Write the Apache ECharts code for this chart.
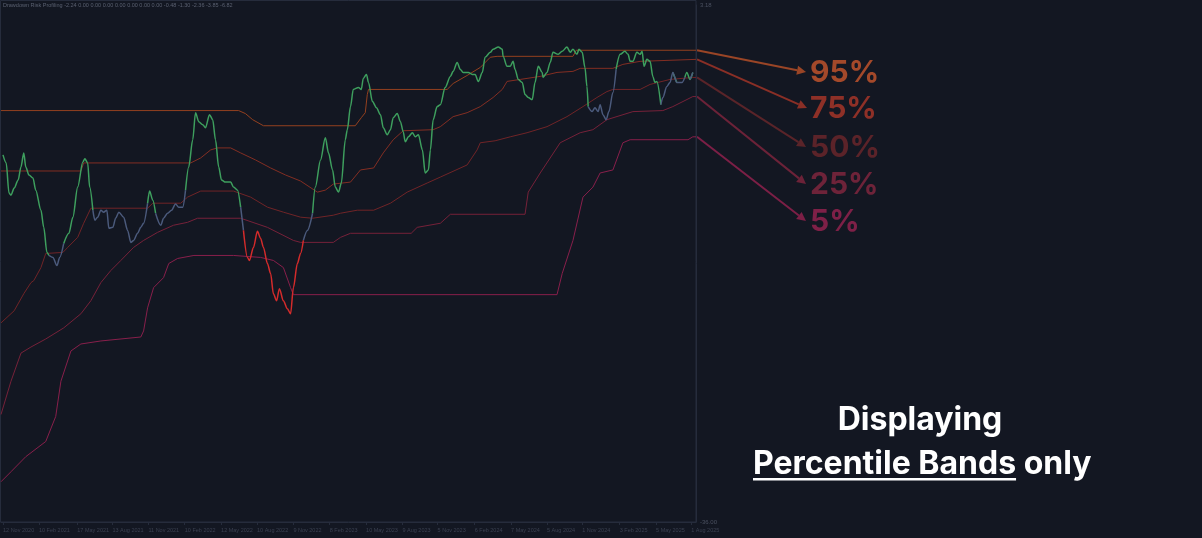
<!DOCTYPE html>
<html>
<head>
<meta charset="utf-8">
<script src="https://cdn.jsdelivr.net/npm/echarts@6/dist/echarts.min.js"></script>
<style>
html,body{margin:0;padding:0;background:#131722;}
#c{width:1202px;height:538px;}
</style>
</head>
<body>
<div id="c"></div>
<script>
// ---------------- DATA ----------------
const titleText = 'Drawdown Risk Profiling -2.24 0.00 0.00 0.00 0.00 0.00 0.00 0.00 -0.48 -1.30 -2.36 -3.85 -6.82';
const xMin = '2020-11-07';
const xMax = '2025-08-13';
const yMin = -36;
const yMax = 3.18;
const yLabelValues = [3.18, -36];
const tickDates = ['2020-11-12','2021-02-10','2021-05-17','2021-08-13','2021-11-11','2022-02-10','2022-05-12','2022-08-10','2022-11-09','2023-02-08','2023-05-10','2023-08-09','2023-11-05','2024-02-06','2024-05-07','2024-08-05','2024-11-01','2025-02-03','2025-05-05','2025-08-01'];
const monthNames = ['Jan','Feb','Mar','Apr','May','Jun','Jul','Aug','Sep','Oct','Nov','Dec'];

const drawdown = [
['2020-11-12',-8.18],['2020-11-20',-8.79],['2020-11-27',-11.07],['2020-12-02',-11.23],['2020-12-10',-10.69],
['2020-12-20',-10.08],['2020-12-27',-9.09],['2021-01-03',-8.03],['2021-01-08',-9.09],['2021-01-16',-9.70],
['2021-01-26',-9.93],['2021-02-02',-10.85],['2021-02-15',-12.37],['2021-02-22',-13.67],['2021-03-02',-15.57],
['2021-03-07',-15.80],['2021-03-17',-15.95],['2021-03-27',-16.56],['2021-04-03',-15.95],['2021-04-13',-14.89],
['2021-04-26',-14.12],['2021-05-06',-12.90],['2021-05-18',-10.62],['2021-05-31',-8.71],['2021-06-05',-8.48],
['2021-06-12',-8.79],['2021-06-17',-10.62],['2021-06-25',-12.37],['2021-06-30',-13.13],['2021-07-07',-12.90],
['2021-07-15',-12.37],['2021-07-22',-12.52],['2021-07-30',-12.37],['2021-08-04',-13.74],['2021-08-14',-13.67],
['2021-08-21',-12.98],['2021-08-29',-12.52],['2021-09-10',-12.90],['2021-09-20',-13.90],['2021-09-28',-14.81],
['2021-10-05',-14.66],['2021-10-15',-14.12],['2021-10-23',-13.67],['2021-10-30',-13.36],['2021-11-09',-11.84],
['2021-11-14',-10.92],['2021-11-22',-11.61],['2021-11-29',-12.60],['2021-12-12',-13.51],['2021-12-19',-12.98],
['2021-12-29',-12.60],['2022-01-08',-12.37],['2022-01-18',-11.90],['2022-01-26',-12.14],['2022-02-05',-12.14],
['2022-02-12',-10.85],['2022-02-20',-9.09],['2022-03-02',-7.03],['2022-03-09',-4.98],['2022-03-17',-5.66],
['2022-03-27',-5.89],['2022-04-03',-6.12],['2022-04-13',-5.13],['2022-04-21',-5.51],['2022-04-28',-7.03],
['2022-05-06',-9.09],['2022-05-13',-10.08],['2022-05-23',-10.24],['2022-06-05',-10.24],['2022-06-12',-10.62],
['2022-06-22',-10.85],['2022-06-30',-12.14],['2022-07-07',-13.90],['2022-07-17',-15.95],['2022-07-22',-16.18],
['2022-08-01',-15.19],['2022-08-11',-13.97],['2022-08-19',-14.51],['2022-08-26',-15.19],['2022-09-05',-16.41],
['2022-09-13',-17.17],['2022-09-20',-18.70],['2022-09-28',-19.23],['2022-10-05',-18.32],['2022-10-15',-19.23],
['2022-10-25',-19.84],['2022-11-02',-20.22],['2022-11-09',-18.24],['2022-11-19',-16.41],['2022-11-27',-15.65],
['2022-12-04',-14.66],['2022-12-14',-13.90],['2022-12-27',-12.60],['2023-01-03',-10.62],['2023-01-16',-8.56],
['2023-01-28',-6.88],['2023-02-05',-8.03],['2023-02-15',-9.32],['2023-02-22',-10.62],['2023-03-02',-11.00],
['2023-03-09',-10.31],['2023-03-19',-7.03],['2023-03-24',-6.27],['2023-04-01',-4.52],['2023-04-08',-3.22],
['2023-04-21',-3.07],['2023-04-28',-3.22],['2023-05-03',-2.39],['2023-05-11',-2.08],['2023-05-16',-2.69],
['2023-05-26',-4.14],['2023-06-05',-4.60],['2023-06-15',-5.13],['2023-06-22',-6.12],['2023-07-02',-6.65],
['2023-07-10',-6.27],['2023-07-17',-5.36],['2023-07-27',-5.05],['2023-08-04',-5.66],['2023-08-11',-6.42],
['2023-08-16',-7.19],['2023-08-24',-6.81],['2023-09-03',-6.50],['2023-09-10',-6.81],['2023-09-18',-6.65],
['2023-09-28',-7.80],['2023-10-05',-9.55],['2023-10-13',-9.32],['2023-10-18',-7.80],['2023-10-25',-5.51],
['2023-11-04',-4.52],['2023-11-12',-4.37],['2023-11-24',-3.07],['2023-12-07',-2.23],['2023-12-14',-1.85],
['2023-12-24',-1.17],['2024-01-01',-1.70],['2024-01-08',-1.93],['2024-01-21',-1.93],['2024-01-31',-2.08],
['2024-02-07',-2.08],['2024-02-15',-2.61],['2024-02-25',-1.93],['2024-03-03',-0.78],['2024-03-16',-0.40],
['2024-03-23',-0.17],['2024-04-05',0.00],['2024-04-15',-0.17],['2024-04-17',-0.71],['2024-04-27',-1.47],
['2024-05-05',-1.47],['2024-05-12',-1.09],['2024-05-17',-1.70],['2024-05-25',-2.46],['2024-06-04',-2.69],
['2024-06-11',-3.61],['2024-06-19',-3.83],['2024-06-29',-3.99],['2024-07-06',-2.69],['2024-07-14',-1.47],
['2024-07-24',-1.93],['2024-07-26',-2.31],['2024-08-05',-1.93],['2024-08-13',-1.17],['2024-08-20',-0.40],
['2024-09-02',-0.56],['2024-09-12',-0.33],['2024-09-24',0.00],['2024-10-02',-0.40],['2024-10-09',-0.17],
['2024-10-19',-0.56],['2024-10-24',-0.17],['2024-11-01',-0.40],['2024-11-08',-1.55],['2024-11-13',-2.99],
['2024-11-16',-4.52],['2024-11-26',-4.90],['2024-12-03',-4.60],['2024-12-11',-4.90],['2024-12-16',-4.37],
['2024-12-23',-5.13],['2024-12-31',-5.51],['2025-01-07',-4.90],['2025-01-17',-3.45],['2025-01-25',-1.70],
['2025-02-04',-0.56],['2025-02-16',-0.33],['2025-02-24',-0.56],['2025-03-01',-1.09],['2025-03-08',-1.09],
['2025-03-18',-0.40],['2025-03-26',-0.56],['2025-03-31',-0.33],['2025-04-05',-1.47],['2025-04-12',-0.94],
['2025-04-20',-1.09],['2025-04-27',-2.23],['2025-05-02',-2.69],['2025-05-07',-2.61],['2025-05-17',-4.37],
['2025-05-22',-3.83],['2025-06-01',-2.99],['2025-06-09',-2.69],['2025-06-16',-1.93],['2025-06-26',-2.69],
['2025-07-09',-2.69],['2025-07-16',-2.31],['2025-07-21',-1.93],['2025-07-29',-2.46],['2025-08-05',-1.93]
];

const band95 = [
['2020-11-07',-4.82],['2022-06-25',-4.82],['2022-07-12',-5.05],['2022-07-30',-5.51],['2022-08-26',-5.97],
['2023-04-13',-5.97],['2023-04-28',-5.36],['2023-05-08',-4.98],['2023-05-13',-3.61],['2023-05-16',-3.22],
['2023-11-29',-3.22],['2023-12-14',-2.77],['2024-01-18',-2.16],['2024-02-20',-1.55],['2024-03-16',-0.78],
['2024-04-02',-0.71],['2024-10-09',-0.71],['2024-10-17',-0.25],['2025-08-13',-0.25]
];
const band75 = [
['2020-11-07',-9.40],['2021-05-26',-9.40],['2021-06-02',-8.79],['2022-02-25',-8.79],['2022-03-22',-8.41],
['2022-04-16',-7.80],['2022-05-03',-7.65],['2022-06-05',-7.65],['2022-06-30',-8.03],['2022-08-06',-8.56],
['2022-09-13',-9.17],['2022-10-20',-9.70],['2022-11-27',-10.16],['2023-01-08',-11.00],['2023-01-28',-10.85],
['2023-02-17',-10.39],['2023-04-01',-10.24],['2023-04-26',-9.32],['2023-05-29',-9.17],['2023-06-22',-8.03],
['2023-07-17',-7.03],['2023-08-11',-6.35],['2023-10-25',-6.27],['2023-11-12',-6.04],['2023-12-14',-5.28],
['2024-01-18',-4.98],['2024-02-20',-4.52],['2024-03-23',-3.83],['2024-04-15',-3.22],['2024-04-27',-2.61],
['2024-05-30',-2.46],['2024-07-19',-2.23],['2024-08-30',-1.93],['2024-10-09',-1.85],['2024-10-27',-1.62],
['2025-01-17',-1.62],['2025-02-11',-1.32],['2025-03-26',-1.09],['2025-08-13',-0.94]
];
const band50 = [
['2020-11-07',-20.91],['2020-12-10',-19.99],['2021-01-03',-18.70],['2021-01-21',-17.86],['2021-01-28',-17.71],
['2021-02-15',-16.72],['2021-02-27',-15.65],['2021-03-04',-15.57],['2021-04-11',-15.57],['2021-04-23',-15.19],
['2021-05-18',-14.43],['2021-06-02',-13.36],['2021-06-20',-12.22],['2021-11-09',-12.22],['2021-11-22',-11.84],
['2022-01-31',-11.84],['2022-02-17',-11.38],['2022-03-22',-10.92],['2022-06-12',-10.92],['2022-07-25',-11.38],
['2022-09-05',-12.14],['2022-10-15',-12.52],['2022-11-27',-12.90],['2022-12-27',-12.98],['2023-02-17',-12.75],
['2023-03-07',-12.60],['2023-04-18',-12.37],['2023-05-29',-12.37],['2023-07-10',-11.84],['2023-08-21',-11.00],
['2023-10-10',-10.31],['2023-11-12',-9.86],['2024-01-18',-8.94],['2024-02-12',-7.80],['2024-02-20',-7.26],
['2024-03-28',-7.11],['2024-05-05',-6.81],['2024-06-16',-6.50],['2024-08-05',-6.04],['2024-09-24',-5.28],
['2024-11-03',-4.52],['2024-12-08',-3.83],['2025-01-02',-3.38],['2025-01-17',-3.22],['2025-03-26',-3.22],
['2025-04-20',-2.84],['2025-06-09',-2.46],['2025-08-05',-2.31],['2025-08-13',-2.31]
];
const band25 = [
['2020-11-07',-27.85],['2020-12-02',-25.33],['2020-12-27',-23.20],['2021-01-21',-22.74],['2021-02-27',-22.13],
['2021-04-13',-21.29],['2021-05-26',-20.22],['2021-06-20',-19.23],['2021-07-15',-17.86],['2021-08-09',-16.94],
['2021-09-03',-16.18],['2021-10-05',-15.19],['2021-10-30',-14.66],['2021-12-04',-14.05],['2022-01-13',-13.51],
['2022-02-17',-13.29],['2022-03-14',-12.98],['2022-06-30',-12.98],['2022-09-05',-13.67],['2022-11-09',-14.66],
['2022-11-27',-14.81],['2023-02-17',-14.81],['2023-03-07',-14.43],['2023-04-01',-14.12],['2023-08-31',-14.12],
['2023-09-15',-13.67],['2023-11-12',-13.36],['2023-12-07',-12.68],['2024-06-11',-12.68],['2024-06-19',-11.00],
['2024-07-19',-9.55],['2024-09-07',-7.26],['2024-10-27',-6.50],['2024-11-28',-6.27],['2025-01-02',-5.51],
['2025-03-08',-4.90],['2025-05-22',-4.82],['2025-06-16',-4.52],['2025-08-05',-3.76],['2025-08-13',-3.76]
];
const band05 = [
['2020-11-07',-32.95],['2020-12-02',-32.19],['2021-01-08',-31.05],['2021-02-27',-29.90],['2021-03-24',-28.00],
['2021-04-06',-25.33],['2021-05-01',-23.04],['2021-05-26',-22.51],['2021-07-15',-22.28],['2021-10-23',-21.98],
['2021-10-30',-21.52],['2021-11-09',-19.77],['2021-11-24',-18.24],['2021-12-19',-17.48],['2022-01-01',-16.41],
['2022-01-23',-16.03],['2022-03-05',-15.80],['2022-06-12',-15.80],['2022-08-19',-15.95],['2022-09-20',-16.18],
['2022-10-15',-16.72],['2022-11-02',-18.24],['2022-11-09',-18.77],['2024-08-30',-18.77],['2024-09-12',-17.17],
['2024-10-09',-14.66],['2024-11-03',-11.38],['2024-11-28',-10.62],['2024-12-16',-9.55],['2025-01-17',-9.32],
['2025-02-11',-7.26],['2025-03-01',-7.03],['2025-07-24',-7.03],['2025-08-05',-6.81],['2025-08-13',-6.81]
];

const bandNames = ['95%','75%','50%','25%','5%'];
const bandData = [band95, band75, band50, band25, band05];
const bandColors = ['#93401f','#832e22','#702427','#762139','#881f4b'];
const labelColors = ['#a4492a','#8e3027','#5b2329','#6e2339','#7e2047'];
const arrowColors = ['#9a4526','#8a2f26','#5a2429','#6c2238','#7c1f46'];
const regimeNames = ['Above median','Between 25% and 50%','Below 25%'];
const regimeColors = ['#3e9f5e','#4b5a7c','#d42b2b'];

// ---------------- HELPERS ----------------
const T = s => { const [y,m,d] = s.split('-').map(Number); return new Date(y, m-1, d).getTime(); };
const toSeries = arr => arr.map(p => [T(p[0]), p[1]]);
function interp(band, t){
  if (t <= T(band[0][0])) return band[0][1];
  for (let i = 1; i < band.length; i++){
    const t0 = T(band[i-1][0]), t1 = T(band[i][0]);
    if (t <= t1){ const f = (t - t0) / (t1 - t0); return band[i-1][1] + f * (band[i][1] - band[i-1][1]); }
  }
  return band[band.length-1][1];
}
function fmtDate(v){ const d = new Date(v); return d.getDate() + ' ' + monthNames[d.getMonth()] + ' ' + d.getFullYear(); }

// regime of each drawdown point: above median band -> green, between 25% and 50% -> blue, below 25% -> red
const regimes = drawdown.map(p => {
  const t = T(p[0]);
  if (p[1] >= interp(band50, t)) return 0;
  if (p[1] >= interp(band25, t)) return 1;
  return 2;
});
// one line per regime; a point belongs to regime k if it is in k or the previous point is (so segments join)
const regimeSeriesData = regimeColors.map((c, k) => drawdown.map((p, i) =>
  (regimes[i] === k || (i > 0 && regimes[i-1] === k)) ? [T(p[0]), p[1]] : [T(p[0]), null]
));

// ---------------- CHART ----------------
const chart = echarts.init(document.getElementById('c'), null, { renderer: 'canvas' });
const series = bandData.map((b, i) => ({
  name: bandNames[i], type: 'line', data: toSeries(b), showSymbol: false, silent: true,
  lineStyle: { color: bandColors[i], width: 1 }, itemStyle: { color: bandColors[i] }, z: 2
}));
regimeSeriesData.forEach((d, k) => series.push({
  name: regimeNames[k], type: 'line', data: d, showSymbol: false, silent: true, connectNulls: false,
  smooth: 0.3, smoothMonotone: 'x', lineStyle: { width: 1.5, color: regimeColors[k] }, itemStyle: { color: regimeColors[k] }, z: 5
}));

const tickValues = tickDates.map(T);
const axisCol = '#262c3c';
chart.setOption({
  animation: false,
  backgroundColor: '#131722',
  title: {
    text: titleText, left: 3, top: 2, padding: 0,
    textStyle: { color: '#5a6070', fontSize: 5.5, fontWeight: 'normal', fontFamily: 'Liberation Sans' }
  },
  grid: { left: 0, right: 506, top: 5, bottom: 16, show: false },
  xAxis: {
    type: 'value', min: T(xMin), max: T(xMax), scale: true,
    axisLine: { show: true, onZero: false, lineStyle: { color: axisCol } },
    axisTick: { show: true, length: 3, lineStyle: { color: axisCol }, customValues: tickValues },
    axisLabel: {
      customValues: tickValues, formatter: v => fmtDate(v), align: 'left', margin: 5,
      color: '#3b4151', fontSize: 5.5, fontFamily: 'Liberation Sans', hideOverlap: false,
      showMinLabel: true, showMaxLabel: true
    },
    splitLine: { show: false }
  },
  yAxis: {
    type: 'value', position: 'right', min: yMin, max: yMax,
    axisLine: { show: true, onZero: false, lineStyle: { color: axisCol } },
    axisTick: { show: false },
    axisLabel: { customValues: yLabelValues, formatter: v => Number(v).toFixed(2), color: '#4b5161', fontSize: 6, margin: 4, fontFamily: 'Liberation Sans', showMinLabel: true, showMaxLabel: true },
    splitLine: { show: false }
  },
  series: series
});

// ---------------- ANNOTATIONS ----------------
const tips = [[806,72],[807,108],[806,147],[806,184],[806,221]];
const labelY = [73,109,148,185,222];
const graphics = [];
// outer frame of the price pane
graphics.push({ type: 'rect', shape: { x: 0.5, y: 0.5, width: 695.5, height: 521.5 }, style: { fill: 'none', stroke: axisCol, lineWidth: 1 }, silent: true, z: -1 });
bandData.forEach((b, i) => {
  const last = b[b.length-1];
  const p = chart.convertToPixel({ xAxisIndex: 0, yAxisIndex: 0 }, [T(last[0]), last[1]]);
  const x0 = p[0] + 1, y0 = p[1];
  const [x1, y1] = tips[i];
  const ang = Math.atan2(y1 - y0, x1 - x0);
  const L = 9, W = 4.5;
  const bx = x1 - L * Math.cos(ang), by = y1 - L * Math.sin(ang);
  graphics.push({ type: 'line', shape: { x1: x0, y1: y0, x2: bx, y2: by }, style: { stroke: arrowColors[i], lineWidth: 2 }, silent: true });
  graphics.push({ type: 'polygon', shape: { points: [[x1, y1], [bx - W * Math.sin(ang), by + W * Math.cos(ang)], [bx + W * Math.sin(ang), by - W * Math.cos(ang)]] }, style: { fill: arrowColors[i] }, silent: true });
  graphics.push({ type: 'text', x: 810, y: labelY[i], style: { text: bandNames[i], fill: labelColors[i], font: 'bold 30px Inter', align: 'left', verticalAlign: 'middle' }, silent: true });
});
const bigFont = 'bold 32px Inter';
const ctx = document.createElement('canvas').getContext('2d');
ctx.font = bigFont;
const pbW = ctx.measureText('Percentile Bands').width;
const spW = ctx.measureText(' ').width;
graphics.push({ type: 'text', x: 920, y: 420, style: { text: 'Displaying', fill: '#ffffff', font: bigFont, align: 'center', verticalAlign: 'middle' }, silent: true });
graphics.push({ type: 'text', x: 753, y: 464, style: { text: 'Percentile Bands', fill: '#ffffff', font: bigFont, align: 'left', verticalAlign: 'middle' }, silent: true });
graphics.push({ type: 'text', x: 753 + pbW + spW, y: 464, style: { text: 'only', fill: '#ffffff', font: bigFont, align: 'left', verticalAlign: 'middle' }, silent: true });
graphics.push({ type: 'rect', shape: { x: 753, y: 478, width: pbW, height: 2.5 }, style: { fill: '#ffffff' }, silent: true });
chart.setOption({ graphic: graphics });
</script>
</body>
</html>
